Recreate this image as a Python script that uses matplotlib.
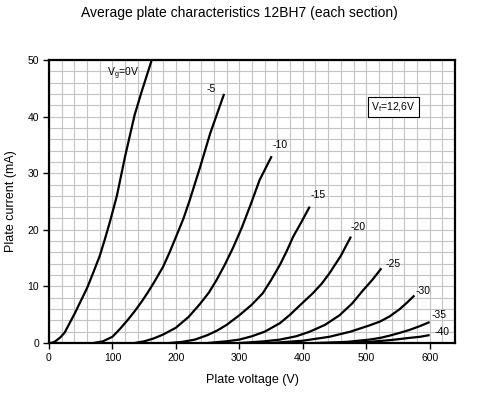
import matplotlib
matplotlib.use("Agg")
from matplotlib import pyplot as plt
from matplotlib.ticker import MultipleLocator

plt.rcParams['font.family'] = ['Liberation Sans', 'DejaVu Sans']

# plate voltage (V) / plate current (mA) for each grid voltage
vg0_v = [0, 5, 10, 18, 25, 32, 40, 50, 60, 70, 80, 88, 96, 107, 120, 135, 146, 162]
vg0_i = [0, 0.05, 0.3, 1.0, 1.9, 3.4, 5.1, 7.4, 9.7, 12.5, 15.4, 18.3, 21.4, 26.0, 33.0, 40.3, 44.4, 50.0]

vg5_v = [70, 85, 100, 112, 125, 135, 146, 155, 165, 180, 190, 200, 212, 222, 238, 254, 276]
vg5_i = [0, 0.3, 1.1, 2.5, 4.2, 5.6, 7.3, 8.8, 10.6, 13.5, 16.0, 18.7, 22.0, 25.3, 31.0, 37.0, 44.0]

vg10_v = [135, 150, 165, 180, 200, 220, 238, 252, 264, 277, 290, 304, 318, 332, 351]
vg10_i = [0, 0.3, 0.8, 1.5, 2.7, 4.6, 6.9, 8.9, 11.1, 13.8, 16.8, 20.4, 24.5, 28.8, 33.0]

vg15_v = [190, 210, 230, 250, 265, 280, 300, 320, 337, 350, 364, 375, 385, 398, 411]
vg15_i = [0, 0.2, 0.6, 1.4, 2.2, 3.2, 4.9, 6.8, 8.8, 11.1, 13.8, 16.3, 18.8, 21.4, 24.1]

vg20_v = [250, 280, 300, 320, 340, 364, 380, 395, 416, 430, 442, 460, 476]
vg20_i = [0, 0.3, 0.6, 1.2, 2.0, 3.5, 5.0, 6.6, 8.8, 10.5, 12.3, 15.4, 18.8]

vg25_v = [300, 340, 364, 390, 411, 435, 458, 478, 495, 510, 524]
vg25_i = [0, 0.3, 0.6, 1.2, 2.0, 3.2, 4.9, 7.0, 9.3, 11.2, 13.2]

vg30_v = [350, 400, 442, 475, 505, 522, 537, 553, 565, 576]
vg30_i = [0, 0.4, 1.1, 2.0, 3.1, 3.8, 4.7, 6.0, 7.2, 8.4]

vg35_v = [420, 470, 505, 522, 537, 553, 568, 585, 600]
vg35_i = [0, 0.2, 0.6, 0.9, 1.3, 1.8, 2.3, 3.0, 3.7]

vg40_v = [470, 505, 537, 553, 568, 585, 600]
vg40_i = [0, 0.2, 0.5, 0.7, 0.9, 1.1, 1.4]

curves = [(vg0_v, vg0_i), (vg5_v, vg5_i), (vg10_v, vg10_i), (vg15_v, vg15_i),
          (vg20_v, vg20_i), (vg25_v, vg25_i), (vg30_v, vg30_i),
          (vg35_v, vg35_i), (vg40_v, vg40_i)]

# curve labels: text, x, y
labels = [(r"V$_\mathregular{g}$=0V", 91, 47.6),
          ("-5", 248, 44.8),
          ("-10", 352, 35.0),
          ("-15", 412, 26.2),
          ("-20", 476, 20.5),
          ("-25", 530, 14.0),
          ("-30", 578, 9.2),
          ("-35", 603, 5.0),
          ("-40", 607, 2.0)]

fig = plt.figure(figsize=(4.78, 3.93), dpi=100)
ax = fig.add_axes([49 / 478, 1 - 343 / 393, 406 / 478, 283 / 393])

for v, i in curves:
    ax.plot(v, i, color="black", linewidth=1.6, solid_capstyle="butt", zorder=3)

for txt, x, y in labels:
    ax.text(x, y, txt, fontsize=7.5, ha="left", va="center", zorder=4)

ax.text(543, 41.7, r"V$_\mathregular{f}$=12,6V", fontsize=7.5, ha="center", va="center",
        bbox=dict(boxstyle="square,pad=0.35", facecolor="white", edgecolor="black", linewidth=0.8),
        zorder=4)

ax.set_xlim(0, 640)
ax.set_ylim(0, 50)
ax.xaxis.set_major_locator(MultipleLocator(100))
ax.xaxis.set_minor_locator(MultipleLocator(20))
ax.yaxis.set_major_locator(MultipleLocator(10))
ax.yaxis.set_minor_locator(MultipleLocator(2))
ax.set_xticks([0, 100, 200, 300, 400, 500, 600])
ax.grid(True, which="both", color="#c4c4c4", linewidth=0.8, zorder=0)
ax.set_axisbelow(True)
ax.tick_params(which="major", direction="out", length=4, width=1, labelsize=7.5, pad=3)
ax.tick_params(which="minor", length=0)

for s in ax.spines.values():
    s.set_linewidth(1.6)
    s.set_color("black")

ax.set_xlabel("Plate voltage (V)", fontsize=9, labelpad=8)
ax.set_ylabel("Plate current (mA)", fontsize=9, labelpad=8)
fig.suptitle("Average plate characteristics 12BH7 (each section)", fontsize=10, y=0.985)

fig.savefig("out.png", dpi=100)
